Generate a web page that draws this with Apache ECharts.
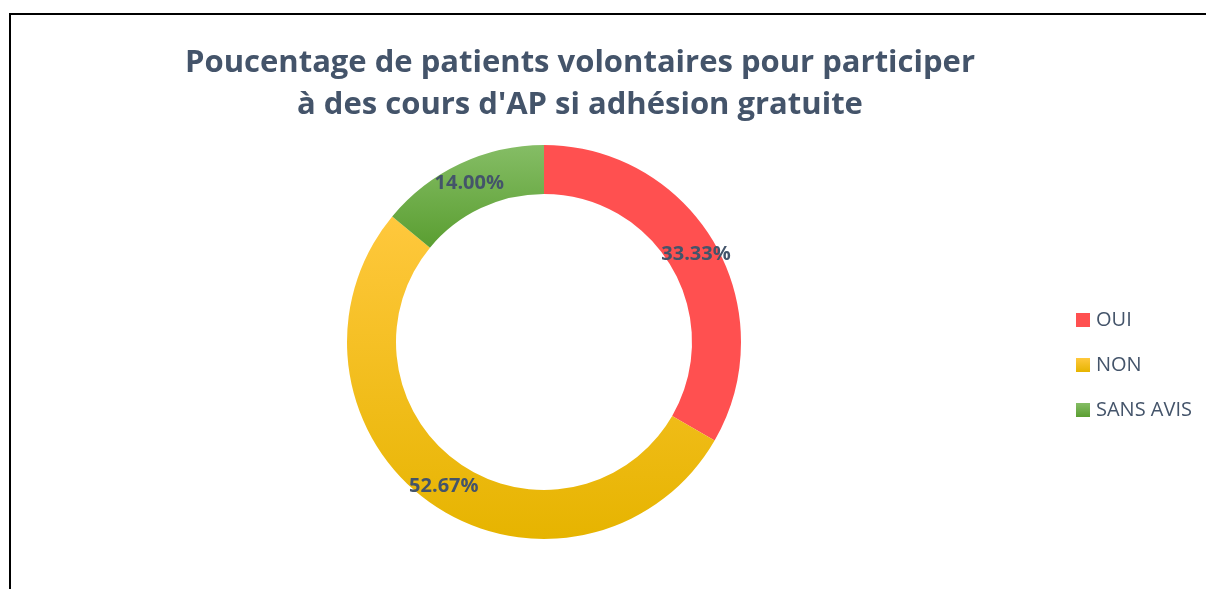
<!DOCTYPE html>
<html><head><meta charset="utf-8">
<script src="https://cdn.jsdelivr.net/npm/echarts@6/dist/echarts.min.js"></script>
<style>html,body{margin:0;padding:0;background:#fff}#c{width:1206px;height:589px}</style>
</head><body><div id="c"></div>
<script>
const titleLines = ["Poucentage de patients volontaires pour participer", "à des cours d'AP si adhésion gratuite"];
const categories = ["OUI", "NON", "SANS AVIS"];
const values = [50, 79, 21];
const labels = ["33.33%", "52.67%", "14.00%"];

const grad = (a, b) => ({type:'linear', x:0, y:0, x2:0, y2:1, colorStops:[{offset:0,color:a},{offset:1,color:b}]});
const colors = [grad('#FF5050','#FF5050'), grad('#FFC83D','#E6B400'), grad('#85BD65','#5A9E31')];

const chart = echarts.init(document.getElementById('c'));
chart.setOption({
  animation:false,
  title:{text:titleLines.join('\n'), left:575, top:37, textAlign:'center',
    textStyle:{fontFamily:'Open Sans', fontWeight:'bold', fontSize:31, color:'#44546A', lineHeight:42}},
  legend:{orient:'vertical', left:1071, top:305, itemWidth:14, itemHeight:14, itemGap:25,
    textStyle:{fontFamily:'Open Sans', fontSize:20, color:'#44546A', padding:[0,0,0,1]}, icon:'rect', data:categories},
  graphic:[{type:'rect', shape:{x:10, y:14, width:1400, height:800}, style:{fill:null, stroke:'#000', lineWidth:2}, silent:true}],
  series:[{type:'pie', center:[544,342], radius:[148,197], startAngle:90, clockwise:true,
    avoidLabelOverlap:false,
    label:{show:true, position:'inside', formatter:p=>labels[p.dataIndex],
      fontFamily:'Open Sans', fontWeight:'bold', fontSize:20, color:'#44546A', padding:[6,0,0,0]},
    labelLine:{show:false},
    itemStyle:{borderWidth:0},
    data:categories.map((c,i)=>({name:c, value:values[i], itemStyle:{color:colors[i]}}))
  }]
});
</script></body></html>
